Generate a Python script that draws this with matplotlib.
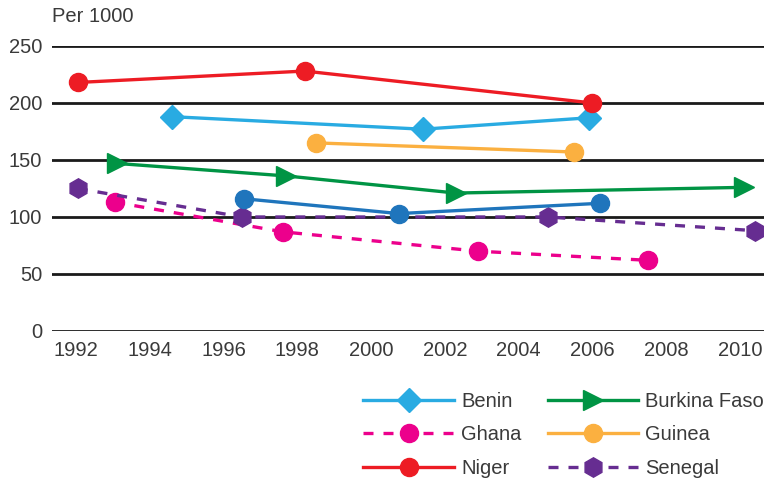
import matplotlib.pyplot as plt
import numpy as np

plt.rcParams['font.family'] = ['Liberation Sans', 'DejaVu Sans']

# Data (per 1000)
niger_x = [1992.05, 1998.2, 2006.0]
niger_y = [218, 228, 200]
benin_x = [1994.6, 2001.4, 2005.9]
benin_y = [188, 177, 187]
guinea_x = [1998.5, 2005.5]
guinea_y = [165, 157]
burkina_x = [1993.1, 1997.7, 2002.3, 2010.1]
burkina_y = [147, 136, 121, 126]
other_x = [1996.55, 2000.75, 2006.2]
other_y = [116, 103, 112]
senegal_x = [1992.05, 1996.5, 2004.8, 2010.4]
senegal_y = [125, 100, 100, 88]
ghana_x = [1993.05, 1997.6, 2002.9, 2007.5]
ghana_y = [113, 87, 70, 62]

years = np.arange(1992, 2011, 2)
yticks = [0, 50, 100, 150, 200, 250]

fig = plt.figure(figsize=(7.64, 4.79), dpi=100)
ax = fig.add_axes([0.068, 0.309, 0.932, 0.595])

lw = 2.4
ms = 13
h_benin, = ax.plot(benin_x, benin_y, color='#29ABE2', lw=lw, marker='D', ms=12, label='Benin', clip_on=False, zorder=3)
h_burk, = ax.plot(burkina_x, burkina_y, color='#009444', lw=lw, marker='>', ms=15, label='Burkina Faso', clip_on=False, zorder=3)
h_ghana, = ax.plot(ghana_x, ghana_y, color='#EC008C', lw=lw, ls=(0, (3, 3)), marker='o', ms=ms, label='Ghana', clip_on=False, zorder=3)
h_guinea, = ax.plot(guinea_x, guinea_y, color='#FBB040', lw=lw, marker='o', ms=ms, label='Guinea', clip_on=False, zorder=3)
h_niger, = ax.plot(niger_x, niger_y, color='#ED1C24', lw=lw, marker='o', ms=ms, label='Niger', clip_on=False, zorder=3)
h_sen, = ax.plot(senegal_x, senegal_y, color='#662D91', lw=lw, ls=(0, (3, 3)), marker='h', ms=14, label='Senegal', clip_on=False, zorder=3)
ax.plot(other_x, other_y, color='#1F75BC', lw=lw, marker='o', ms=ms, label='_nolegend_', clip_on=False, zorder=3)

ax.set_xlim(1991.35, 2010.65)
ax.set_ylim(0, 250)
ax.set_xticks(years)
ax.set_yticks(yticks)
ax.tick_params(length=0, labelsize=14.5, colors='#3a3a3a', pad=7)
for s in ax.spines.values():
    s.set_visible(False)
ax.yaxis.grid(True, color='#1a1a1a', lw=2)
ax.set_axisbelow(True)

fig.text(0.068, 0.965, 'Per 1000', fontsize=14.5, color='#3a3a3a', va='center')

# column-major order so rows read Benin/Burkina Faso, Ghana/Guinea, Niger/Senegal
leg = fig.legend(handles=[h_benin, h_ghana, h_niger, h_burk, h_guinea, h_sen],
                 ncol=2, loc='upper right', bbox_to_anchor=(1.0, 0.182),
                 frameon=False, handlelength=4.5, fontsize=14.5,
                 labelspacing=0.72, columnspacing=1.3, handletextpad=0.35,
                 borderaxespad=0.0, borderpad=0.0)
for t in leg.get_texts():
    t.set_color('#3a3a3a')

plt.savefig('out.png', dpi=100)
